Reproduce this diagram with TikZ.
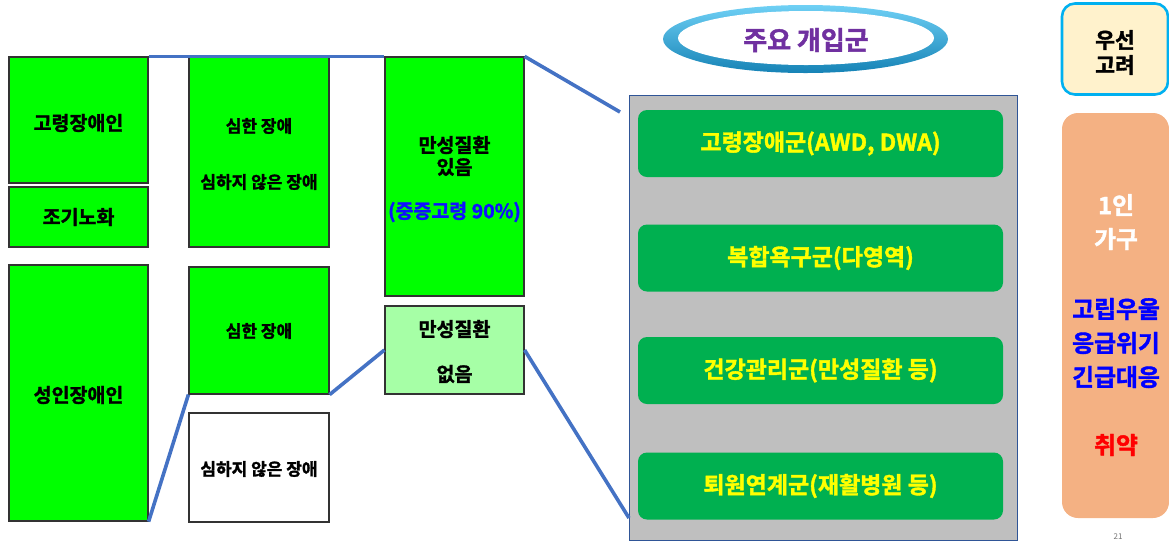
\documentclass[tikz,border=0pt]{standalone}
\usepackage{fontspec}
\setmainfont{Noto Sans CJK KR}[BoldFont={Noto Sans CJK KR Bold},BoldFeatures={FakeBold=1.6}]
\definecolor{lime}{HTML}{00FF00}
\definecolor{palelime}{HTML}{A6FFA6}
\definecolor{barGreen}{HTML}{00B050}
\definecolor{barText}{HTML}{FFFF00}
\definecolor{linkBlue}{HTML}{4472C4}
\definecolor{panelGray}{HTML}{BFBFBF}
\definecolor{panelEdge}{HTML}{2F5597}
\definecolor{ringBlue}{HTML}{1A9AD6}
\definecolor{ringLight}{HTML}{6FD0F5}
\definecolor{titlePurple}{HTML}{7030A0}
\definecolor{cyanEdge}{HTML}{00B0F0}
\definecolor{creamFill}{HTML}{FFF2CC}
\definecolor{peach}{HTML}{F4B183}
\definecolor{txtBlue}{HTML}{1010FF}
\begin{document}
\begin{tikzpicture}[x=1pt,y=-1pt,
  catbox/.style={draw=black!80,line width=1.2pt,fill=lime,minimum width=139pt,inner sep=0pt},
  lbl/.style={font=\fontsize{19.5}{21}\selectfont\bfseries,inner sep=0pt},
  slbl/.style={font=\fontsize{17}{19}\selectfont\bfseries,inner sep=0pt},
  link/.style={draw=linkBlue,line width=3.6pt},
  bar/.style={fill=barGreen,rounded corners=9pt,minimum width=365pt,minimum height=67pt,inner sep=0pt,
    text=barText,font=\fontsize{23}{25}\selectfont\bfseries},
  side/.style={rounded corners=13pt,inner sep=0pt,minimum width=106pt},
  big/.style={font=\fontsize{23.8}{25}\selectfont\bfseries,inner sep=0pt},
  mid/.style={font=\fontsize{21.5}{23}\selectfont\bfseries,inner sep=0pt}
]
\useasboundingbox (0,0) rectangle (1169,542);

% left column
\node[catbox,minimum height=126pt] (A) at (78.5,120) {};
\node[lbl] (Atxt) at (78.5,123) {고령장애인};
\node[catbox,minimum height=60pt] (B) at (78.5,217) {};
\node[lbl] (Btxt) at (78.5,217) {조기노화};
\node[catbox,minimum height=256pt] (C) at (78.5,393) {};
\node[lbl] (Ctxt) at (78.5,395) {성인장애인};

% middle column
\node[catbox,minimum width=140pt,minimum height=190pt] (D) at (259,152) {};
\node[slbl] (D1) at (259,126) {심한 장애};
\node[slbl] (D2) at (259,182) {심하지 않은 장애};
\node[catbox,minimum width=140pt,minimum height=127pt] (E) at (259,330.5) {};
\node[slbl] (E1) at (259,331) {심한 장애};
\node[catbox,fill=white,minimum width=140pt,minimum height=109pt] (F) at (259,467.5) {};
\node[slbl] (F1) at (259,469) {심하지 않은 장애};

% right column
\node[catbox,minimum height=239pt] (G) at (454.5,176.5) {};
\node[lbl] (G1) at (454.5,145) {만성질환};
\node[lbl] (G2) at (454.5,167) {있음};
\node[lbl,text=txtBlue] (G3) at (454.5,212) {(중증고령 90\%)};
\node[catbox,fill=palelime,minimum height=88pt] (H) at (454.5,350) {};
\node[lbl] (H1) at (454.5,329) {만성질환};
\node[lbl] (H2) at (454.5,374) {없음};

% panel
\node[draw=panelEdge,line width=0.9pt,fill=panelGray,minimum width=388pt,minimum height=445pt,inner sep=0pt] (P) at (823,317.5) {};
\node[bar] (b1) at (820.5,143.5) {고령장애군(AWD, DWA)};
\node[bar] (b2) at (820.5,258) {복합욕구군(다영역)};
\node[bar] (b3) at (820.5,370.5) {건강관리군(만성질환 등)};
\node[bar] (b4) at (820.5,486) {퇴원연계군(재활병원 등)};

% connectors
\coordinate (topEnd) at (620,112);
\coordinate (botEnd) at (629,518);
\draw[link] (A.north east) -- (G.north west);
\draw[link] (G.north east) -- (topEnd);
\draw[link] (C.south east) -- (E.south west);
\draw[link] (E.south east) -- (H.west);
\draw[link] (H.east) -- (botEnd);

% title ellipse
\shade[top color=ringLight,bottom color=ringBlue!85!black] (805.5,39) ellipse [x radius=142.5,y radius=34];
\fill[white] (806,38) ellipse [x radius=128,y radius=27];
\node[font=\fontsize{26}{28}\selectfont\bfseries,text=titlePurple,inner sep=0pt] (title) at (806,40) {주요 개입군};

% side boxes
\node[side,draw=cyanEdge,line width=2.6pt,fill=creamFill,minimum height=91pt] (S1) at (1115,49) {};
\node[mid] (S1a) at (1115,40) {우선};
\node[mid] (S1b) at (1115,65) {고려};
\node[side,fill=peach,minimum width=107pt,minimum height=405pt,rounded corners=16pt] (S2) at (1115.5,315.5) {};
\node[big,text=white] (S2a) at (1116,205) {1인};
\node[big,text=white] (S2b) at (1116,239) {가구};
\node[big,text=blue] (S2c) at (1116,309) {고립우울};
\node[big,text=blue] (S2d) at (1116,343) {응급위기};
\node[big,text=blue] (S2e) at (1116,377) {긴급대응};
\node[big,text=red] (S2f) at (1116,445) {취약};
\node[font=\fontsize{8}{9}\selectfont,text=black!55,inner sep=0pt] (pg) at (1118,537) {21};
\end{tikzpicture}
\end{document}
